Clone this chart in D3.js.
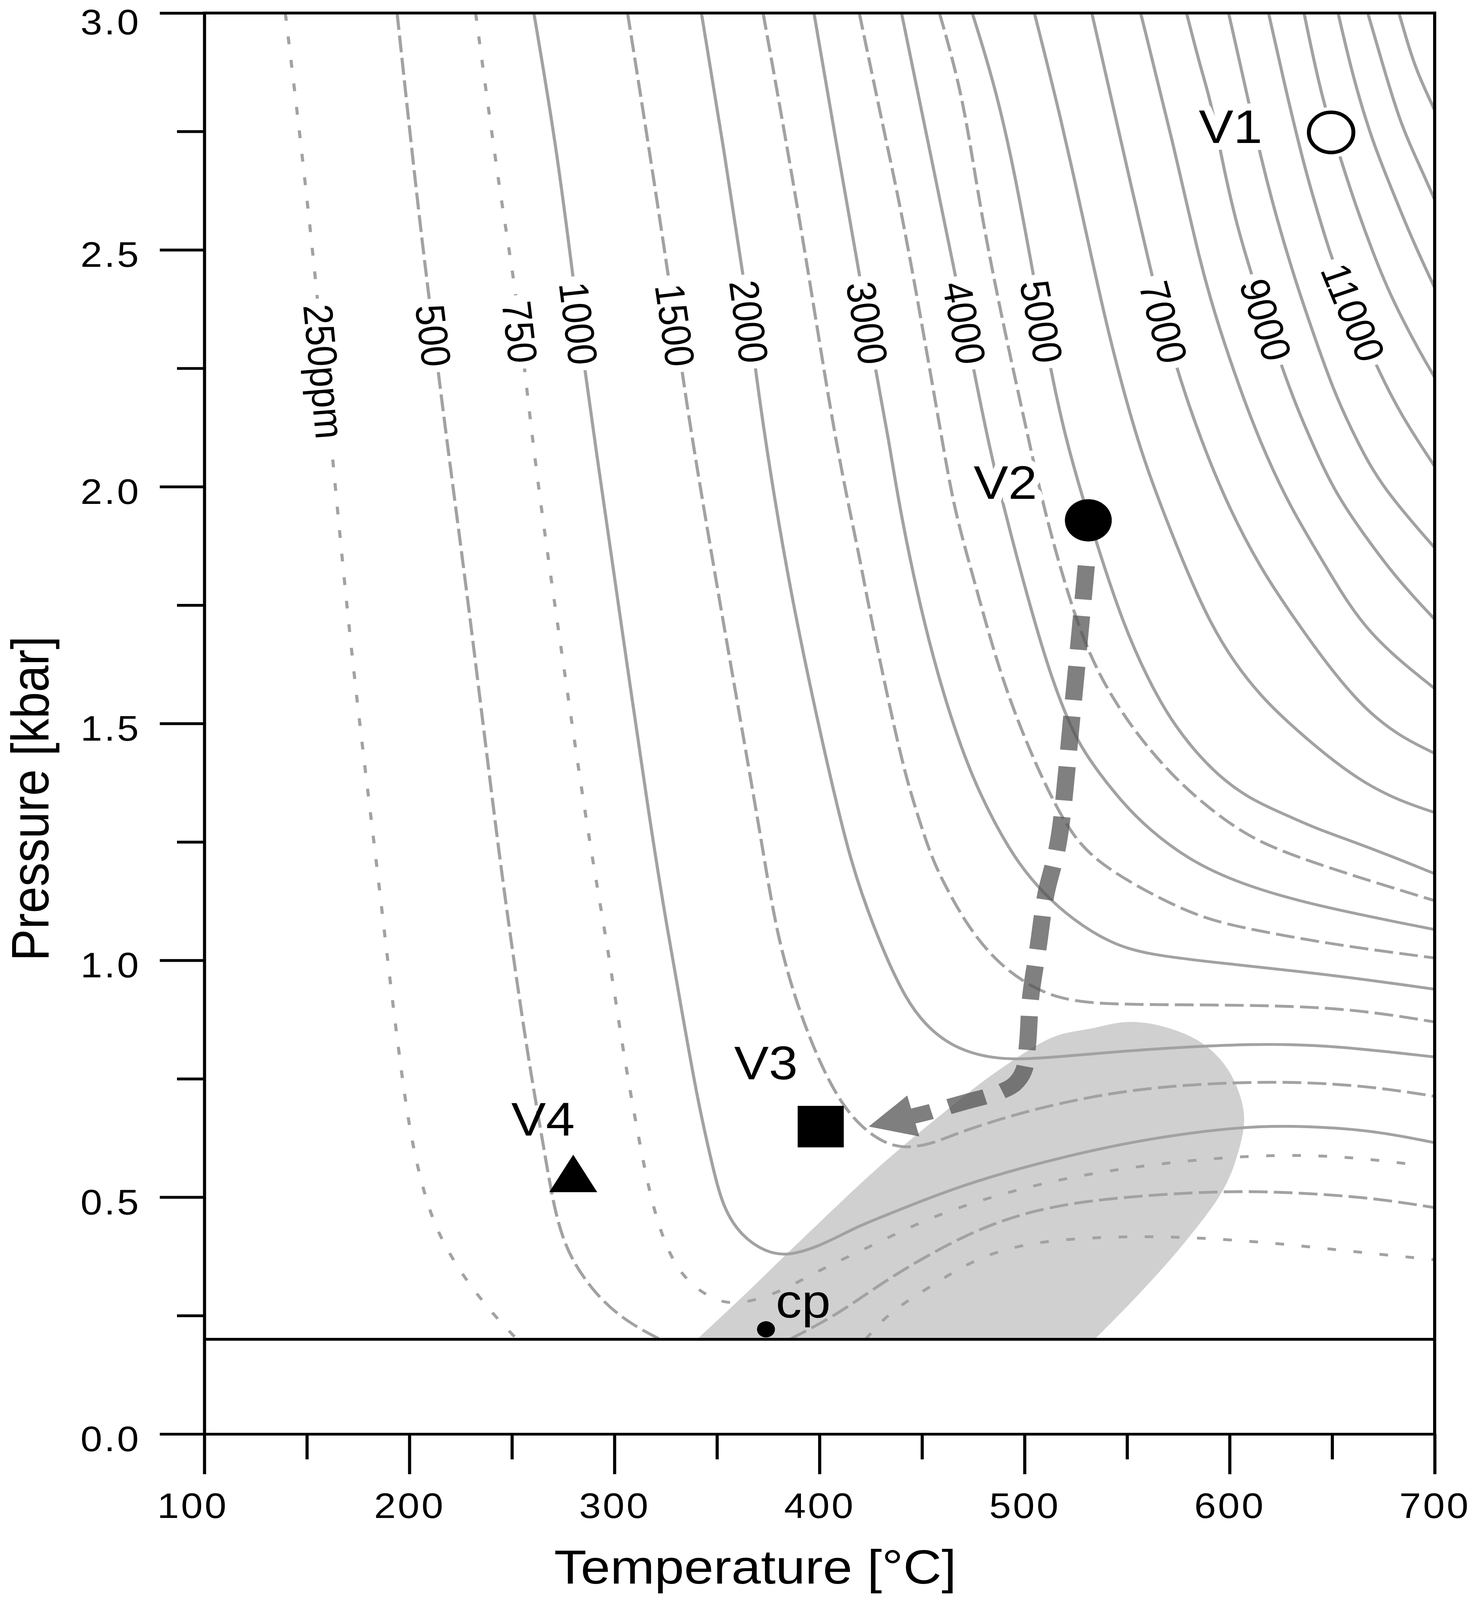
<!DOCTYPE html>
<html>
<head>
<meta charset="utf-8">
<script src="https://cdn.jsdelivr.net/npm/d3@7"></script>
<style>
  html, body { margin: 0; padding: 0; background: #fff; overflow: hidden; }
  svg { display: block; }
  text { font-family: "Liberation Sans", Arial, Helvetica, sans-serif; }
</style>
</head>
<body>
<div id="chart"></div>
<script>
// ---------- data: temperature [°C], pressure [kbar] ----------
const xTicks = [100, 200, 300, 400, 500, 600, 700];
const xMinor = [150, 250, 350, 450, 550, 650];
const yTicks = [0, 0.5, 1, 1.5, 2, 2.5, 3];
const yMinor = [0.25, 0.75, 1.25, 1.75, 2.25, 2.75];
const cutP = 0.2;

// isopleths (ppm); the low-P branches on the right are separate arrays
const c250 = [[139.5,3.0],[147.3,2.719],[155.3,2.398],[162.3,2.07],[172.2,1.623],[182,1.279],[190.9,0.944],[194.6,0.816],[200,0.638],[207.3,0.503],[214.5,0.417],[227.3,0.325],[242,0.247],[252.5,0.2]];
const c250b = [[422.5,0.2],[432,0.247],[442.5,0.28],[453.9,0.311],[477.5,0.375],[505,0.407],[541.4,0.417],[577.8,0.417],[623.5,0.403],[660,0.385],[700,0.368]];
const c500 = [[194,3.0],[204.2,2.589],[209.8,2.392],[218.2,2.097],[229,1.749],[242.5,1.262],[251.1,0.994],[258.4,0.781],[265.6,0.603],[271.1,0.461],[278.4,0.368],[293,0.283],[307.6,0.233],[322.2,0.2]];
const c500b = [[385.5,0.2],[409.7,0.254],[433,0.328],[472,0.425],[505,0.475],[541.4,0.499],[596.1,0.514],[632.5,0.51],[669.1,0.499],[700,0.478]];
const c750 = [[232.3,3.0],[244.8,2.596],[252.5,2.405],[260.5,2.065],[275,1.628],[287.3,1.26],[296.7,1.03],[303.9,0.816],[311.2,0.638],[318.6,0.475],[327.6,0.368],[336.7,0.318],[345.9,0.29],[355,0.275],[365.9,0.279],[378.6,0.297],[391.4,0.325],[400.6,0.347],[428,0.403],[455.6,0.461],[490.3,0.51],[528.6,0.549],[577.8,0.578],[623.5,0.591],[660,0.585],[693,0.567]];
const c1000 = [[260.7,3.0],[271.7,2.719],[280.3,2.426],[285,2.263],[290.4,2.097],[301.3,1.77],[317.7,1.279],[325.8,1.065],[333.1,0.888],[340.3,0.71],[347.7,0.567],[353.1,0.475],[362.2,0.417],[373.3,0.385],[384.2,0.375],[400.6,0.397],[418.8,0.439],[432,0.461],[468.4,0.525],[514,0.581],[559.7,0.624],[605.2,0.649],[632.5,0.651],[669.1,0.642],[700,0.615]];
const c1500 = [[306.4,3.0],[316.7,2.719],[327,2.426],[332.5,2.257],[338,2.097],[351.6,1.749],[371.5,1.26],[378.6,1.065],[387.8,0.923],[396.9,0.816],[407.8,0.716],[418.8,0.653],[431.6,0.613],[442.5,0.603],[455.3,0.613],[468.4,0.638],[505,0.688],[550.5,0.728],[596.1,0.742],[632.5,0.744],[669.1,0.734],[700,0.713]];
const c2000 = [[342.4,3.0],[353.1,2.719],[363.4,2.432],[368.2,2.266],[373.5,2.097],[386.6,1.749],[410.6,1.279],[420.6,1.137],[432,1.01],[442,0.92],[451,0.866],[464.6,0.816],[486.7,0.788],[514,0.795],[559.7,0.813],[614.4,0.825],[650.8,0.82],[700,0.796]];
const c2500 = [[372.5,3.0],[391.8,2.534],[407.4,2.097],[419.6,1.852],[423.8,1.749],[438.7,1.443],[445.9,1.332],[454.5,1.218],[461,1.16],[472,1.073],[486.7,0.994],[505,0.938],[523.1,0.912],[550.5,0.906],[614.4,0.906],[660,0.898],[700,0.87]];
const c3000 = [[397.3,3.0],[408.4,2.719],[420.2,2.432],[426.7,2.26],[433.9,2.097],[439.2,1.949],[450.8,1.711],[463.1,1.522],[475.1,1.379],[487.2,1.275],[497,1.205],[508.6,1.144],[523.1,1.087],[541.4,1.037],[559.7,1.012],[596.1,0.994],[650.8,0.969],[700,0.939]];
const c3500 = [[419.4,3.0],[433,2.719],[442.3,2.534],[460.5,2.08],[465.9,1.949],[475.1,1.807],[487.2,1.617],[499.4,1.474],[511.6,1.356],[523.6,1.26],[537,1.203],[559.7,1.144],[587,1.087],[614.4,1.062],[650.8,1.033],[700,1.005]];
const c4000 = [[440,3.0],[453.3,2.719],[466.9,2.435],[474.7,2.257],[483,2.08],[490.3,1.949],[501.9,1.759],[511.6,1.617],[518.9,1.531],[526.1,1.46],[535.8,1.398],[548,1.332],[560,1.279],[580,1.212],[605.2,1.161],[641.6,1.115],[700,1.065]];
const c4500 = [[458.5,3.0],[470.1,2.824],[477.9,2.596],[489.2,2.349],[503,2.08],[509.7,1.949],[521.3,1.769],[531.1,1.65],[541.9,1.56],[555.3,1.474],[572.4,1.388],[590.6,1.318],[611,1.256],[632.5,1.219],[660,1.179],[700,1.126]];
const c5000 = [[474.5,3.0],[485.9,2.842],[495.5,2.657],[504.8,2.435],[512,2.263],[520,2.097],[534.7,1.885],[548,1.711],[560.2,1.593],[572.4,1.498],[590.6,1.403],[608.8,1.342],[629.2,1.304],[641.6,1.279],[669.1,1.237],[700,1.183]];
const c6000 = [[504.8,3.0],[517.6,2.781],[530.2,2.534],[541,2.318],[556,2.08],[567.5,1.949],[578.3,1.83],[590.6,1.711],[602.7,1.626],[614.9,1.56],[629.2,1.498],[666.9,1.361],[700,1.312]];
const c7000 = [[532.8,3.0],[544.4,2.78],[562.5,2.435],[572.8,2.266],[586,2.097],[600.3,1.949],[614.9,1.83],[629.2,1.735],[666.9,1.508],[700,1.437]];
const c8000 = [[556.6,3.0],[572,2.735],[586,2.463],[595.3,2.33],[604.7,2.211],[614.5,2.098],[628.9,1.961],[648,1.824],[666.9,1.688],[700,1.574]];
const c9000 = [[579,3.0],[586,2.882],[590.8,2.815],[595.7,2.702],[602.8,2.562],[611,2.443],[624,2.27],[632.5,2.17],[641.5,2.08],[651.5,1.987],[666.9,1.89],[682.1,1.803],[700,1.72]];
const c10000 = [[599.5,3.0],[609.2,2.815],[614.8,2.702],[623.2,2.562],[632.5,2.429],[641.9,2.31],[651.2,2.197],[662,2.097],[674,2.0],[700,1.871]];
const c11000 = [[619,3.0],[626.1,2.862],[637.1,2.662],[646.5,2.529],[651.2,2.463],[669.7,2.27],[683.6,2.15],[700,2.043]];
const c12000 = [[636.3,3.0],[644.5,2.828],[653.8,2.696],[661.3,2.596],[669.7,2.496],[679,2.397],[692.9,2.283],[700,2.231]];
const c13000 = [[652.9,3.0],[660.3,2.862],[669.7,2.728],[679,2.629],[688.3,2.529],[700,2.42]];
const c14000 = [[667.4,3.0],[674.4,2.895],[683.6,2.762],[692.9,2.676],[700,2.606]];
const c15000 = [[682.6,3.0],[688.3,2.914],[692.9,2.861],[700,2.795]];

const contours = [
  { value: 250, pts: c250 }, { value: 250, pts: c250b },
  { value: 500, pts: c500 }, { value: 500, pts: c500b },
  { value: 750, pts: c750 }, { value: 1000, pts: c1000 },
  { value: 1500, pts: c1500 }, { value: 2000, pts: c2000 },
  { value: 2500, pts: c2500 }, { value: 3000, pts: c3000 },
  { value: 3500, pts: c3500 }, { value: 4000, pts: c4000 },
  { value: 4500, pts: c4500 }, { value: 5000, pts: c5000 },
  { value: 6000, pts: c6000 }, { value: 7000, pts: c7000 },
  { value: 8000, pts: c8000 }, { value: 9000, pts: c9000 },
  { value: 10000, pts: c10000 }, { value: 11000, pts: c11000 },
  { value: 12000, pts: c12000 }, { value: 13000, pts: c13000 },
  { value: 14000, pts: c14000 }, { value: 15000, pts: c15000 },
];

// which isopleths carry a label, and at what pressure along the line
const labelValues = [250, 500, 750, 1000, 1500, 2000, 3000, 4000, 5000, 7000, 9000, 11000];
const labelP = [2.244, 2.32, 2.327, 2.345, 2.342, 2.349, 2.346, 2.346, 2.349, 2.349, 2.353, 2.368];

// shaded field
const field = [[340.3,0.2],[364.2,0.297],[391.4,0.411],[428,0.56],[455.3,0.66],[486.7,0.766],[514,0.838],[532.3,0.856],[550.5,0.87],[568.7,0.859],[587,0.824],[599.7,0.766],[607,0.674],[603.3,0.582],[596.1,0.51],[577.8,0.403],[556.1,0.297],[534.2,0.2]];

// path V2 -> V3 (last point is the arrow tip)
const pathV2V3 = [[530.1,1.833],[523.1,1.517],[516.5,1.25],[510.3,1.137],[506.7,1.03],[503,0.923],[501.4,0.82],[499.5,0.766],[494.9,0.738],[486.7,0.72],[472,0.702],[452,0.678],[424,0.649]];

const markerNames = ["V1", "V2", "V3", "V4", "cp"];
const markerT = [649.5, 531.1, 400.6, 279.9, 373.9];
const markerP = [2.748, 1.929, 0.649, 0.537, 0.221];

// ---------- layout ----------
const W = 3765, H = 4540;
const margin = { top: 37, right: 93, bottom: 471, left: 523 };
const grey = "#a2a2a2";

const x = d3.scaleLinear().domain([100, 700]).range([margin.left, W - margin.right]);
const y = d3.scaleLinear().domain([0, 3]).range([H - margin.bottom, margin.top]);

const dotted = new Set([250, 750]);
const dashed = new Set([500, 1500, 2500, 3500, 4500]);
const dashFor = (v) => (dotted.has(v) ? "22,45" : dashed.has(v) ? "48,16" : null);

// fill whatever viewport we get, drawing in a fixed 3765x4540 space
const vw = window.innerWidth || W;
const vh = window.innerHeight || H;
const svg = d3.select("#chart").append("svg")
  .attr("width", vw).attr("height", vh)
  .attr("viewBox", `0 0 ${W} ${H}`)
  .attr("preserveAspectRatio", "none");

svg.append("rect").attr("width", W).attr("height", H).attr("fill", "#fff");

svg.append("defs").append("clipPath").attr("id", "plotclip")
  .append("rect")
  .attr("x", x(100)).attr("y", y(3))
  .attr("width", x(700) - x(100)).attr("height", y(0) - y(3));

const plot = svg.append("g").attr("clip-path", "url(#plotclip)");

const isoLine = d3.line()
  .x((d) => x(d[0]))
  .y((d) => y(d[1]))
  .curve(d3.curveBasis);

const smoothLine = d3.line()
  .x((d) => x(d[0]))
  .y((d) => y(d[1]))
  .curve(d3.curveCatmullRom.alpha(0.5));

// shaded field
plot.append("path")
  .attr("d", smoothLine(field) + "Z")
  .attr("fill", "#d0d0d0");

// isopleths
const isoPaths = plot.selectAll(".iso")
  .data(contours)
  .join("path")
  .attr("class", "iso")
  .attr("d", (d) => isoLine(d.pts))
  .attr("fill", "none")
  .attr("stroke", grey)
  .attr("stroke-width", 8)
  .attr("stroke-dasharray", (d) => dashFor(d.value));

// point on a path where it first reaches a screen y, plus the local direction
function pointAtY(node, targetY) {
  const L = node.getTotalLength();
  let s = 0;
  for (let l = 0; l <= L; l += 2) {
    if (node.getPointAtLength(l).y >= targetY) { s = l; break; }
  }
  const p = node.getPointAtLength(s);
  const a = node.getPointAtLength(Math.max(0, s - 25));
  const b = node.getPointAtLength(Math.min(L, s + 25));
  return { x: p.x, y: p.y, angle: Math.atan2(b.y - a.y, b.x - a.x) * 180 / Math.PI };
}

const labelLayer = plot.append("g");
labelValues.forEach((v, i) => {
  const c = contours.find((d) => d.value === v);
  const node = isoPaths.filter((d) => d === c).node();
  const pos = pointAtY(node, y(labelP[i]));
  const g = labelLayer.append("g")
    .attr("transform", `translate(${pos.x},${pos.y}) rotate(${pos.angle})`);
  const bg = g.append("rect").attr("fill", "#fff");
  const t = g.append("text")
    .attr("text-anchor", "middle")
    .attr("dy", "0.36em")
    .style("font-size", "106px")
    .text(v === 250 ? "250ppm" : String(v));
  const w = t.node().getComputedTextLength();
  bg.attr("x", -w / 2 - 16).attr("y", -24).attr("width", w + 32).attr("height", 48);
});

// thick dashed arrow V2 -> V3
const pts = pathV2V3.map((d) => [x(d[0]), y(d[1])]);
const tip = pts[pts.length - 1];
const prev = pts[pts.length - 2];
const ang = Math.atan2(tip[1] - prev[1], tip[0] - prev[0]);
const headLen = 118, headHalf = 60;
const base = [tip[0] - headLen * 0.92 * Math.cos(ang), tip[1] - headLen * 0.92 * Math.sin(ang)];
const shaft = pts.slice(0, -1).concat([base]);

const arrow = plot.append("g").attr("opacity", 0.75);
arrow.append("path")
  .attr("d", d3.line().curve(d3.curveCatmullRom.alpha(0.5))(shaft))
  .attr("fill", "none")
  .attr("stroke", "#555")
  .attr("stroke-width", 44)
  .attr("stroke-dasharray", "96,47");
const bx = tip[0] - headLen * Math.cos(ang), by = tip[1] - headLen * Math.sin(ang);
const nx = -Math.sin(ang), ny = Math.cos(ang);
arrow.append("path")
  .attr("d", `M${tip[0]},${tip[1]}L${bx + nx * headHalf},${by + ny * headHalf}L${bx - nx * headHalf},${by - ny * headHalf}Z`)
  .attr("fill", "#555");

// markers
const symbolFor = {
  V1: d3.symbol(d3.symbolCircle, Math.PI * 57 * 57),
  V2: d3.symbol(d3.symbolCircle, Math.PI * 60 * 60),
  V3: d3.symbol(d3.symbolSquare, 118 * 118),
  V4: d3.symbol(d3.symbolTriangle, 6527),
  cp: d3.symbol(d3.symbolCircle, Math.PI * 23 * 23),
};
const labelOffset = {
  V1: { dx: -176, dy: 30, anchor: "end", halo: true },
  V2: { dx: -131, dy: -61, anchor: "end", halo: true },
  V3: { dx: -59, dy: -134, anchor: "end", halo: false },
  V4: { dx: 4, dy: -125, anchor: "end", halo: false },
  cp: { dx: 25, dy: -33, anchor: "start", halo: false },
};

const markLayer = plot.append("g");
markerNames.forEach((name, i) => {
  const cx = x(markerT[i]), cy = y(markerP[i]);
  const g = markLayer.append("g").attr("transform", `translate(${cx},${cy})`);
  if (name === "V1") {
    g.append("circle").attr("r", 72).attr("fill", "#fff");
    g.append("path").attr("d", symbolFor[name]())
      .attr("fill", "#fff").attr("stroke", "#000").attr("stroke-width", 10);
  } else {
    g.append("path").attr("d", symbolFor[name]()).attr("fill", "#000");
  }
  const o = labelOffset[name];
  const t = g.append("text")
    .attr("x", o.dx).attr("y", o.dy)
    .attr("text-anchor", o.anchor)
    .style("font-size", "133px")
    .text(name);
  if (o.halo) {
    t.attr("stroke", "#fff").attr("stroke-width", 40)
      .attr("stroke-linejoin", "round").attr("paint-order", "stroke");
  }
});

// ---------- axes and frame ----------
const axisFont = (sel) => sel.selectAll("text")
  .style("font-size", "100px")
  .style("letter-spacing", "5px")
  .style("font-family", '"Liberation Sans", Arial, sans-serif')
  .attr("fill", "#000");
const axisLines = (sel) => {
  sel.selectAll("line").attr("stroke", "#000").attr("stroke-width", 8);
  sel.select(".domain").attr("stroke", "#000").attr("stroke-width", 8);
};

const gx = svg.append("g").attr("transform", `translate(0,${y(0)})`)
  .call(d3.axisBottom(x).tickValues(xTicks).tickSize(114).tickSizeOuter(0).tickPadding(53).tickFormat(d3.format("d")));
axisLines(gx); axisFont(gx);
// the first label sits a little left of its tick in the original
gx.selectAll("text").filter((d) => d === 100).attr("dx", -30);

const gxm = svg.append("g").attr("transform", `translate(0,${y(0)})`)
  .call(d3.axisBottom(x).tickValues(xMinor).tickSize(72).tickFormat(() => ""));
gxm.select(".domain").remove();
axisLines(gxm);

const gy = svg.append("g").attr("transform", `translate(${x(100)},0)`)
  .call(d3.axisLeft(y).tickValues(yTicks).tickSize(114).tickSizeOuter(0).tickPadding(49).tickFormat(d3.format(".1f")));
axisLines(gy); axisFont(gy);
gy.selectAll("text").attr("dy", (d) => (d === 3 ? "0.6em" : "0.48em"));

const gym = svg.append("g").attr("transform", `translate(${x(100)},0)`)
  .call(d3.axisLeft(y).tickValues(yMinor).tickSize(70).tickFormat(() => ""));
gym.select(".domain").remove();
axisLines(gym);

const frame = svg.append("g").attr("stroke", "#000").attr("stroke-width", 8).attr("stroke-linecap", "square");
frame.append("line").attr("x1", x(100)).attr("x2", x(700)).attr("y1", y(3)).attr("y2", y(3));
frame.append("line").attr("x1", x(700)).attr("x2", x(700)).attr("y1", y(3)).attr("y2", y(0));
frame.append("line").attr("x1", x(100)).attr("x2", x(700)).attr("y1", y(cutP)).attr("y2", y(cutP))
  .attr("stroke-linecap", "butt");

// axis titles
svg.append("text")
  .attr("x", 1933).attr("y", 4493)
  .attr("text-anchor", "middle")
  .style("font-size", "136px")
  .text("Temperature [°C]");

svg.append("text")
  .attr("transform", "translate(124,2266) rotate(-90)")
  .attr("text-anchor", "middle")
  .style("font-size", "136px")
  .text("Pressure [kbar]");
</script>
</body>
</html>
